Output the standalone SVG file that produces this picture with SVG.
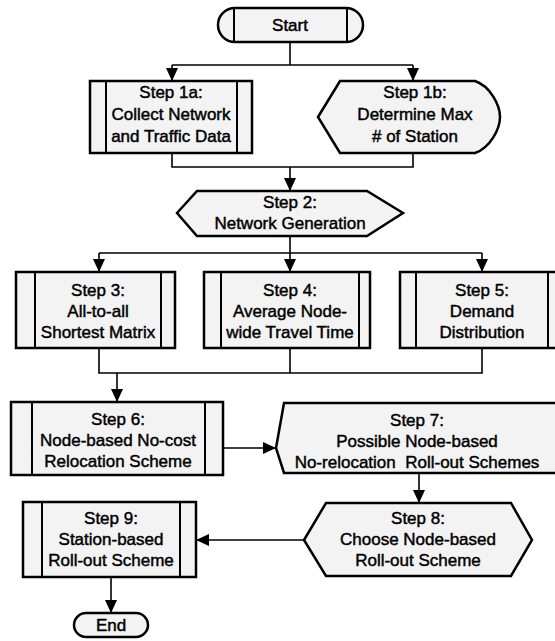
<svg xmlns="http://www.w3.org/2000/svg" width="555" height="641" viewBox="0 0 555 641">
<defs>
<marker id="ah" markerUnits="userSpaceOnUse" markerWidth="13" markerHeight="12" refX="13" refY="6" orient="auto"><path d="M0,0 L13,6 L0,12 z" fill="#000"/></marker>
</defs>
<style>
.box{fill:#f3f3f3;stroke:#000;stroke-width:2.5}
.in{stroke:#000;stroke-width:2;fill:none}
.c{fill:none;stroke:#000;stroke-width:1.6}
.a{fill:none;stroke:#000;stroke-width:1.6;marker-end:url(#ah)}
text{font-family:"Liberation Sans",Arial,sans-serif;font-size:17px;text-anchor:middle;fill:#000;stroke:#000;stroke-width:0.45}
</style>
<rect width="555" height="641" fill="#fff"/>
<g id="connectors">
<path class="c" d="M290,42 V65 M172,65 H413"/>
<path class="a" d="M172,65 V81"/>
<path class="a" d="M413,65 V81"/>
<path class="c" d="M172,153 V167 H413 V153"/>
<path class="a" d="M290,167 V191"/>
<path class="c" d="M290,236 V253 M99,253 H482"/>
<path class="a" d="M99,253 V272"/>
<path class="a" d="M290,253 V272"/>
<path class="a" d="M482,253 V272"/>
<path class="c" d="M99,348 V373 H482 V348 M290,348 V373"/>
<path class="a" d="M117,373 V402"/>
<path class="a" d="M223,448 H276"/>
<path class="a" d="M419,473 V503"/>
<path class="a" d="M304,540 H196"/>
<path class="a" d="M111,577 V613"/>
</g>
<g id="start">
<rect class="box" x="218" y="8" width="145" height="34" rx="17"/>
<path class="in" d="M234,8 V42 M347,8 V42"/>
<text x="290" y="31">Start</text>
</g>
<g id="step1a">
<rect class="box" x="90" y="81" width="162" height="72"/>
<path class="in" d="M106,81 V153 M237,81 V153"/>
<text x="171" y="98">Step 1a:</text>
<text x="171" y="120">Collect Network</text>
<text x="171" y="142">and Traffic Data</text>
</g>
<g id="step1b">
<path class="box" d="M318,117 L340,81 L475,81 C490,86 500,105 500,117 C500,129 490,148 475,153 L340,153 Z"/>
<text x="415" y="98">Step 1b:</text>
<text x="415" y="120">Determine Max</text>
<text x="415" y="142"># of Station</text>
</g>
<g id="step2">
<path class="box" d="M177,213 L197,191 L367,191 L403,213 L367,236 L197,236 Z"/>
<text x="290" y="208">Step 2:</text>
<text x="290" y="229">Network Generation</text>
</g>
<g id="step3">
<rect class="box" x="16" y="272" width="159" height="76"/>
<path class="in" d="M35,272 V348 M161,272 V348"/>
<text x="98" y="296">Step 3:</text>
<text x="98" y="317">All-to-all</text>
<text x="98" y="338">Shortest Matrix</text>
</g>
<g id="step4">
<rect class="box" x="204" y="272" width="166" height="76"/>
<path class="in" d="M221,272 V348 M359,272 V348"/>
<text x="290" y="296">Step 4:</text>
<text x="290" y="317">Average Node-</text>
<text x="290" y="338">wide Travel Time</text>
</g>
<g id="step5">
<rect class="box" x="400" y="272" width="180" height="76"/>
<path class="in" d="M416,272 V348 M548,272 V348"/>
<text x="482" y="296">Step 5:</text>
<text x="482" y="317">Demand</text>
<text x="482" y="338">Distribution</text>
</g>
<g id="step6">
<rect class="box" x="11" y="402" width="212" height="73"/>
<path class="in" d="M32,402 V475 M205,402 V475"/>
<text x="118" y="425">Step 6:</text>
<text x="118" y="446">Node-based No-cost</text>
<text x="118" y="467">Relocation Scheme</text>
</g>
<g id="step7">
<path class="box" d="M276,448 L284,403 L580,403 L580,473 L284,473 Z"/>
<text x="417" y="426">Step 7:</text>
<text x="417" y="447">Possible Node-based</text>
<text x="417" y="468">No-relocation&#160; Roll-out Schemes</text>
</g>
<g id="step8">
<path class="box" d="M304,540 L326,503 L511,503 L532,540 L511,576 L326,576 Z"/>
<text x="418" y="524">Step 8:</text>
<text x="418" y="545">Choose Node-based</text>
<text x="418" y="566">Roll-out Scheme</text>
</g>
<g id="step9">
<rect class="box" x="23" y="502" width="173" height="75"/>
<path class="in" d="M42,502 V577 M180,502 V577"/>
<text x="111" y="524">Step 9:</text>
<text x="111" y="545">Station-based</text>
<text x="111" y="566">Roll-out Scheme</text>
</g>
<g id="end">
<rect class="box" x="74" y="613" width="74" height="24" rx="12"/>
<text x="111" y="631">End</text>
</g>
</svg>
